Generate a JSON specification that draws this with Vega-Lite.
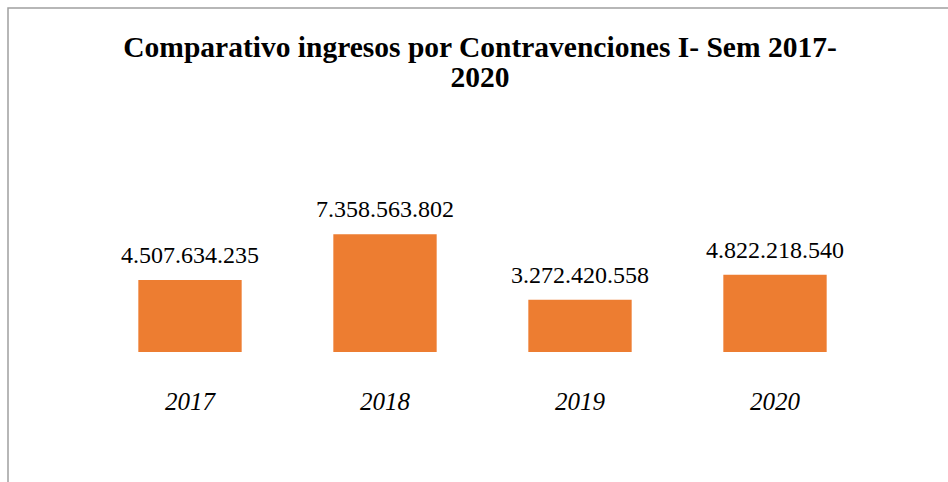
{
  "$schema": "https://vega.github.io/schema/vega-lite/v6.json",
  "width": 960,
  "height": 490,
  "autosize": {"type": "none"},
  "padding": {"left": 8, "top": 8, "right": 0, "bottom": 0},
  "background": "white",
  "config": {
    "locale": {"number": {"decimal": ",", "thousands": ".", "grouping": [3], "currency": ["$", ""]}},
    "view": {"stroke": "#a0a0a0", "strokeWidth": 1.5}
  },
  "title": {
    "text": ["Comparativo ingresos por Contravenciones I- Sem 2017-", "2020"],
    "font": "Liberation Serif",
    "fontSize": 29.5,
    "fontWeight": "bold",
    "color": "#000000",
    "anchor": "middle",
    "dx": -8,
    "baseline": "top",
    "offset": -85,
    "lineHeight": 30
  },
  "data": {
    "values": [
      {"year": "2017", "value": 4507634235},
      {"year": "2018", "value": 7358563802},
      {"year": "2019", "value": 3272420558},
      {"year": "2020", "value": 4822218540}
    ]
  },
  "encoding": {
    "x": {"field": "year", "type": "nominal", "axis": null, "sort": null, "scale": {"range": [84.5, 864.5], "paddingInner": 0.47, "paddingOuter": 0.235}}
  },
  "layer": [
    {
      "mark": {"type": "bar", "color": "#ED7D31"},
      "encoding": {
        "y": {"field": "value", "type": "quantitative", "axis": null, "scale": {"domain": [-9125000000, 21500000000], "nice": false, "zero": false}}
      }
    },
    {
      "mark": {"type": "text", "font": "Liberation Serif", "fontSize": 24, "color": "#000000", "baseline": "bottom", "dy": -12},
      "encoding": {
        "y": {"field": "value", "type": "quantitative", "axis": null},
        "text": {"field": "value", "type": "quantitative", "format": ","}
      }
    },
    {
      "mark": {"type": "text", "font": "Liberation Serif", "fontSize": 25, "fontStyle": "italic", "color": "#000000", "baseline": "middle", "dy": 50},
      "encoding": {
        "y": {"datum": 0, "type": "quantitative", "axis": null},
        "text": {"field": "year", "type": "nominal"}
      }
    }
  ]
}
